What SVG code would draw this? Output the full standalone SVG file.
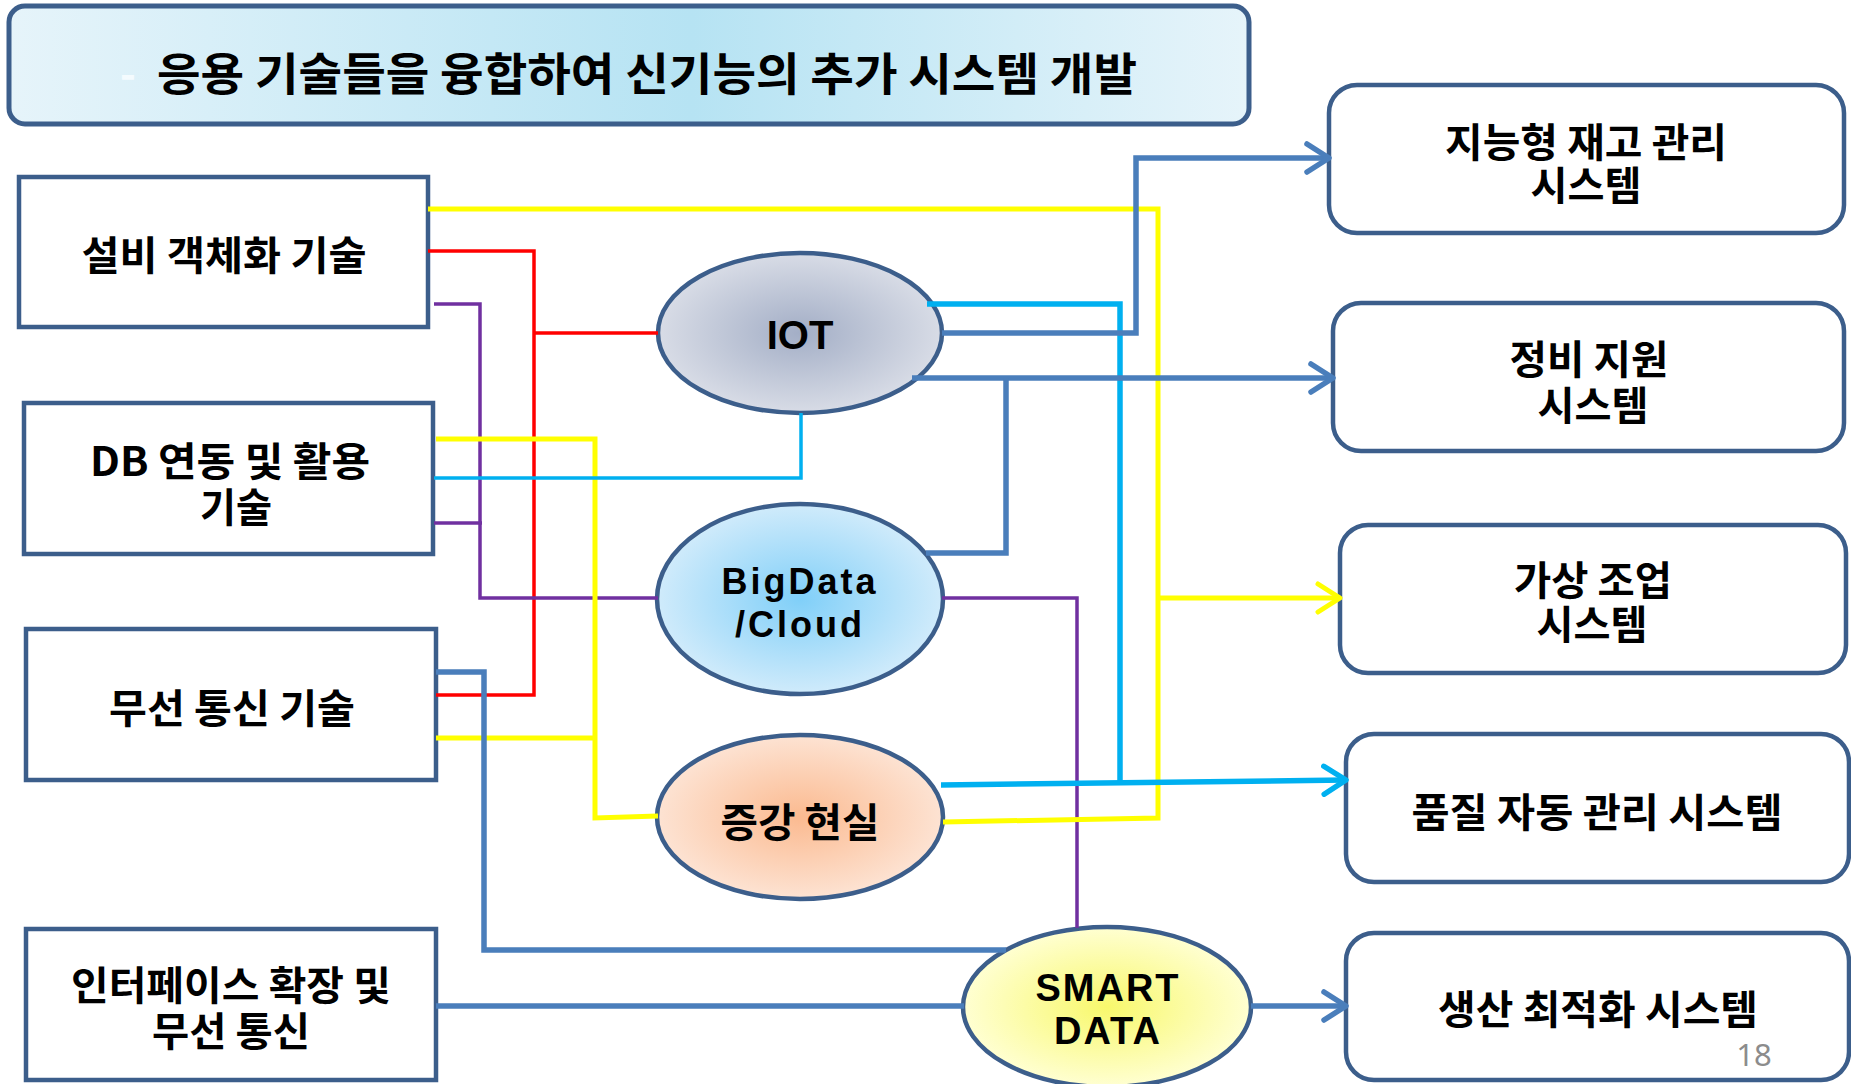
<svg xmlns="http://www.w3.org/2000/svg" width="1851" height="1084" viewBox="0 0 1851 1084">
<style>
.box{fill:#ffffff;stroke:#3c5e8b;stroke-width:4.5}
.ell{stroke:#3c5e8b;stroke-width:4.5}
.kt{font-family:"Noto Sans CJK KR","Noto Sans",sans-serif;font-weight:bold;font-size:40px;fill:#000;text-anchor:middle;dominant-baseline:central}
.lt{font-family:"Liberation Sans",Arial,sans-serif;font-weight:bold;font-size:38px;fill:#000;text-anchor:middle;dominant-baseline:central}
.ln{fill:none;stroke-linejoin:miter}
.red{stroke:#ff0000;stroke-width:3.5}
.pur{stroke:#7030a0;stroke-width:3.5}
.yel{stroke:#ffff00;stroke-width:5}
.cyt{stroke:#00b0f0;stroke-width:3.5}
.cyk{stroke:#00b0f0;stroke-width:5.5}
.stb{stroke:#4a7ebb;stroke-width:5.5}
</style>
<defs>
<linearGradient id="gTitle" x1="0" y1="0" x2="1" y2="0">
<stop offset="0" stop-color="#e6f4fa"/>
<stop offset="0.55" stop-color="#b6e3f3"/>
<stop offset="1" stop-color="#e6f4fa"/>
</linearGradient>
<radialGradient id="gIot" cx="0.5" cy="0.5" r="0.5">
<stop offset="0" stop-color="#a3aec6"/>
<stop offset="1" stop-color="#d8dce6"/>
</radialGradient>
<radialGradient id="gBig" cx="0.5" cy="0.5" r="0.5">
<stop offset="0" stop-color="#80cff8"/>
<stop offset="1" stop-color="#d0ebfb"/>
</radialGradient>
<radialGradient id="gAr" cx="0.5" cy="0.5" r="0.5">
<stop offset="0" stop-color="#fbba90"/>
<stop offset="1" stop-color="#fde3d3"/>
</radialGradient>
<radialGradient id="gSm" cx="0.5" cy="0.5" r="0.5">
<stop offset="0" stop-color="#f8f86c"/>
<stop offset="1" stop-color="#ffffd2"/>
</radialGradient>
<marker id="aStb" markerUnits="userSpaceOnUse" viewBox="0 0 30 34" markerWidth="30" markerHeight="34" refX="26" refY="17" orient="auto">
<path d="M4,3 L26,17 L4,31" fill="none" stroke="#4a7ebb" stroke-width="5.5" stroke-linecap="round" stroke-linejoin="round"/>
</marker>
<marker id="aYel" markerUnits="userSpaceOnUse" viewBox="0 0 30 34" markerWidth="30" markerHeight="34" refX="26" refY="17" orient="auto">
<path d="M4,3 L26,17 L4,31" fill="none" stroke="#ffff00" stroke-width="5" stroke-linecap="round" stroke-linejoin="round"/>
</marker>
<marker id="aCy" markerUnits="userSpaceOnUse" viewBox="0 0 30 34" markerWidth="30" markerHeight="34" refX="26" refY="17" orient="auto">
<path d="M4,3 L26,17 L4,31" fill="none" stroke="#00b0f0" stroke-width="5.5" stroke-linecap="round" stroke-linejoin="round"/>
</marker>
</defs>
<rect width="1851" height="1084" fill="#ffffff"/>

<g id="title">
<rect x="9" y="6" width="1240" height="118" rx="16" fill="url(#gTitle)" stroke="#3c5e8b" stroke-width="5"/>
<text x="128" y="71" font-family="Noto Sans CJK KR,sans-serif" font-weight="bold" font-size="44" fill="#f4fbfe" text-anchor="middle" dominant-baseline="central">-</text>
<text x="647" y="71" class="kt" style="font-size:45px" textLength="980" lengthAdjust="spacingAndGlyphs">응용 기술들을 융합하여 신기능의 추가 시스템 개발</text>
</g>

<g id="node-equip">
<rect class="box" x="19" y="177" width="409" height="150"/>
<text class="kt" x="224" y="253" textLength="285" lengthAdjust="spacingAndGlyphs">설비 객체화 기술</text>
</g>
<g id="node-db">
<rect class="box" x="24" y="403" width="409" height="151"/>
<text class="kt" x="230" y="459" textLength="280" lengthAdjust="spacingAndGlyphs">DB 연동 및 활용</text>
<text class="kt" x="236" y="505" textLength="72" lengthAdjust="spacingAndGlyphs">기술</text>
</g>
<g id="node-wireless">
<rect class="box" x="26" y="629" width="410" height="151"/>
<text class="kt" x="232" y="706" textLength="246" lengthAdjust="spacingAndGlyphs">무선 통신 기술</text>
</g>
<g id="node-interface">
<rect class="box" x="26" y="929" width="410" height="151"/>
<text class="kt" x="231" y="983" textLength="320" lengthAdjust="spacingAndGlyphs">인터페이스 확장 및</text>
<text class="kt" x="231" y="1029" textLength="158" lengthAdjust="spacingAndGlyphs">무선 통신</text>
</g>

<g id="node-inventory">
<rect class="box" x="1329" y="85" width="515" height="148" rx="28"/>
<text class="kt" x="1586" y="140" textLength="282" lengthAdjust="spacingAndGlyphs">지능형 재고 관리</text>
<text class="kt" x="1586" y="183" textLength="111" lengthAdjust="spacingAndGlyphs">시스템</text>
</g>
<g id="node-maint">
<rect class="box" x="1333" y="303" width="511" height="148" rx="28"/>
<text class="kt" x="1589" y="357" textLength="159" lengthAdjust="spacingAndGlyphs">정비 지원</text>
<text class="kt" x="1593" y="403" textLength="111" lengthAdjust="spacingAndGlyphs">시스템</text>
</g>
<g id="node-virtual">
<rect class="box" x="1340" y="525" width="506" height="148" rx="28"/>
<text class="kt" x="1593" y="578" textLength="158" lengthAdjust="spacingAndGlyphs">가상 조업</text>
<text class="kt" x="1592" y="622" textLength="111" lengthAdjust="spacingAndGlyphs">시스템</text>
</g>
<g id="node-quality">
<rect class="box" x="1346" y="734" width="503" height="148" rx="28"/>
<text class="kt" x="1597" y="810" textLength="371" lengthAdjust="spacingAndGlyphs">품질 자동 관리 시스템</text>
</g>
<g id="node-production">
<rect class="box" x="1346" y="933" width="503" height="147" rx="28"/>
<text class="kt" x="1598" y="1007" textLength="320" lengthAdjust="spacingAndGlyphs">생산 최적화 시스템</text>
</g>

<g id="node-iot">
<ellipse class="ell" cx="800" cy="333" rx="142" ry="80" fill="url(#gIot)"/>
<text class="lt" x="800" y="335" style="font-size:40px">IOT</text>
</g>
<g id="node-bigdata">
<ellipse class="ell" cx="800" cy="599" rx="143" ry="95" fill="url(#gBig)"/>
<text class="lt" x="800" y="581" style="font-size:36px;letter-spacing:3px">BigData</text>
<text class="lt" x="800" y="624" style="font-size:36px;letter-spacing:3px">/Cloud</text>
</g>
<g id="node-ar">
<ellipse class="ell" cx="800" cy="817" rx="143" ry="82" fill="url(#gAr)"/>
<text class="kt" x="800" y="820" textLength="159" lengthAdjust="spacingAndGlyphs">증강 현실</text>
</g>
<g id="node-smart">
<ellipse class="ell" cx="1107" cy="1007" rx="144" ry="80" fill="url(#gSm)"/>
<text class="lt" x="1108" y="988" style="letter-spacing:2px">SMART</text>
<text class="lt" x="1108" y="1031" style="letter-spacing:2px">DATA</text>
</g>

<g id="connectors">
<polyline class="ln red" points="428,251 534,251 534,695 436,695"/>
<line class="ln red" x1="534" y1="333" x2="658" y2="333"/>
<polyline class="ln pur" points="434,304 480,304 480,598 658,598"/>
<line class="ln pur" x1="434" y1="523" x2="482" y2="523"/>
<polyline class="ln pur" points="942,598 1077,598 1077,928"/>
<polyline class="ln yel" points="428,209 1158,209 1158,818 943,822"/>
<line class="ln yel" x1="1158" y1="598" x2="1340" y2="598" marker-end="url(#aYel)"/>
<polyline class="ln yel" points="436,439 595,439 595,818 658,816"/>
<line class="ln yel" x1="436" y1="738" x2="595" y2="738"/>
<polyline class="ln cyt" points="434,478 801,478 801,413"/>
<polyline class="ln cyk" points="927,304 1120,304 1120,782"/>
<line class="ln cyk" x1="941" y1="785" x2="1346" y2="780" marker-end="url(#aCy)"/>
<polyline class="ln stb" points="942,333 1136,333 1136,158 1329,158" marker-end="url(#aStb)"/>
<line class="ln stb" x1="912" y1="378" x2="1333" y2="378" marker-end="url(#aStb)"/>
<polyline class="ln stb" points="1006,378 1006,553 926,553"/>
<polyline class="ln stb" points="436,672 484,672 484,950 1006,950"/>
<line class="ln stb" x1="436" y1="1006" x2="964" y2="1006"/>
<line class="ln stb" x1="1251" y1="1006" x2="1346" y2="1006" marker-end="url(#aStb)"/>
</g>

<text x="1754" y="1066" font-family="Noto Sans,sans-serif" font-size="31" fill="#8c8c8c" text-anchor="middle">18</text>
</svg>
